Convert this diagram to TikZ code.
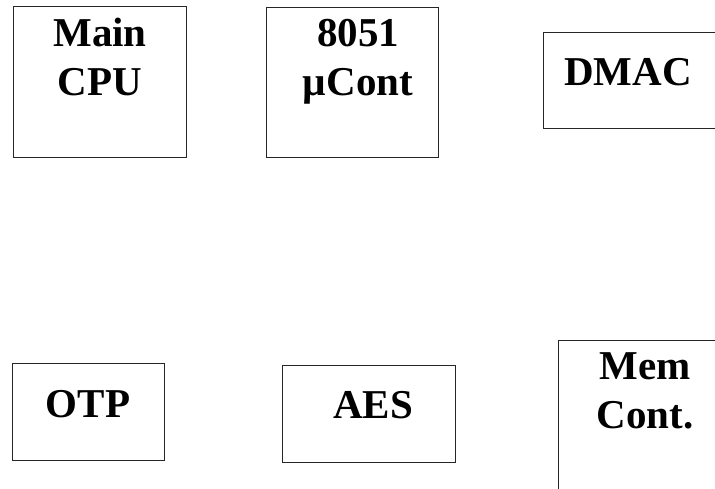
\documentclass[tikz,border=0pt]{standalone}
\usepackage{fontspec}
\setmainfont{Liberation Serif}
\begin{document}
\begin{tikzpicture}[x=1pt,y=-1pt,
  block/.style={draw=black!85, line width=0.9pt, inner sep=0pt, fill=none},
  caption/.style={font=\fontsize{41}{49}\selectfont\bfseries, align=center, inner sep=0pt, anchor=base}]
\fill[white] (0,0) rectangle (715,488);
\clip (0,0) rectangle (715,488);
% blocks
\node[block, minimum width=173pt, minimum height=151pt] (cpu)  at (99.5,81.5) {};
\node[block, minimum width=172pt, minimum height=150pt] (mcu)  at (352,82) {};
\node[block, minimum width=187pt, minimum height=96pt]  (dmac) at (636.5,80) {};
\node[block, minimum width=152pt, minimum height=97pt]  (otp)  at (88,411.5) {};
\node[block, minimum width=173pt, minimum height=97pt]  (aes)  at (368.5,413.5) {};
\node[block, minimum width=172pt, minimum height=160pt] (mem)  at (644,420) {};
% captions (anchored at the baseline of the last line)
\node[caption] (cpuT)  at (100,95)  {Main\\CPU};
\node[caption] (mcuT)  at (358,95)  {8051\\µCont};
\node[caption] (dmacT) at (628,85)  {DMAC};
\node[caption] (otpT)  at (88,417)  {OTP};
\node[caption] (aesT)  at (373,418) {AES};
\node[caption] (memT)  at (645,428) {Mem\\Cont.};
\end{tikzpicture}
\end{document}
